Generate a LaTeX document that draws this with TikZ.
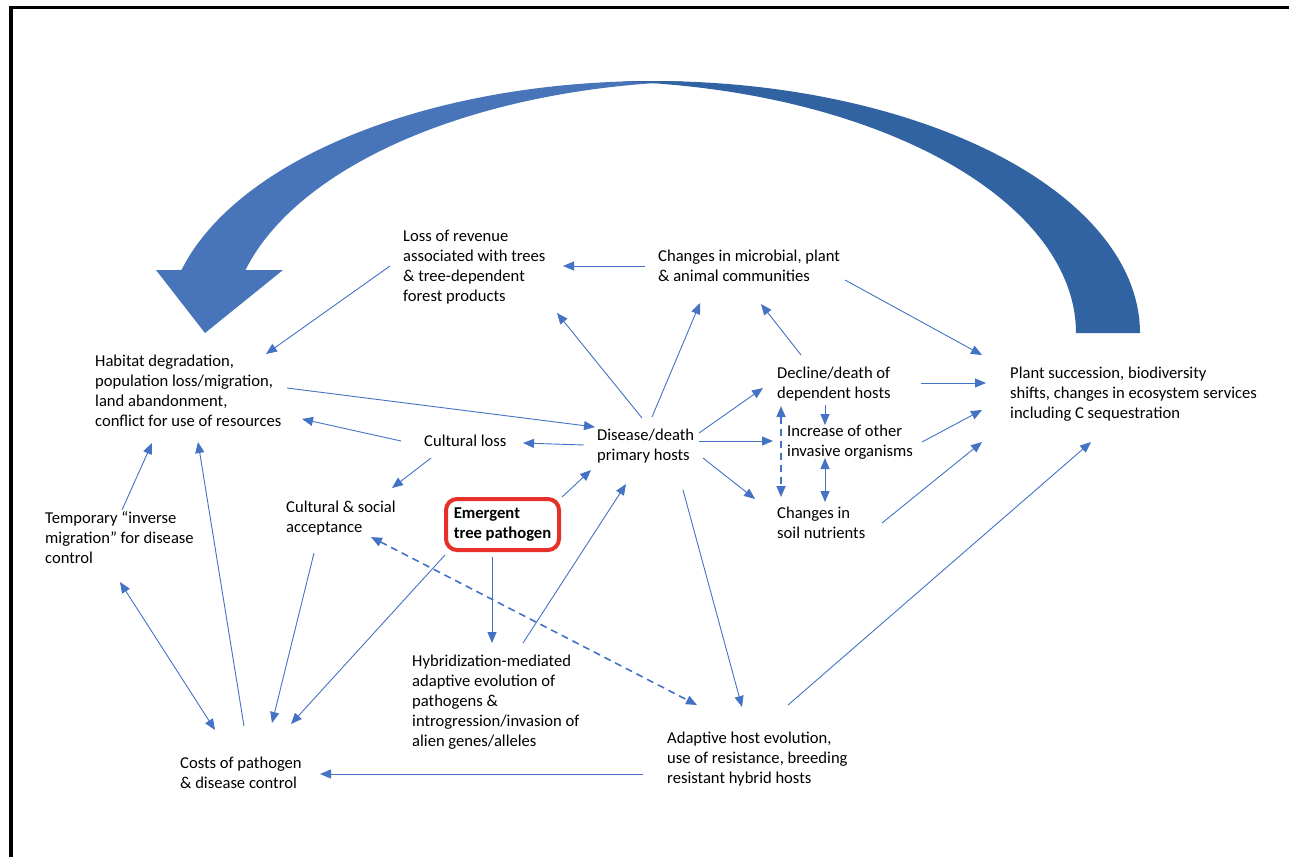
\documentclass[tikz,border=0pt]{standalone}
\usepackage{fontspec}
\setmainfont{Carlito}
\usetikzlibrary{arrows.meta}
\definecolor{ln}{HTML}{4472C4}
\definecolor{arcL}{HTML}{4875B9}
\definecolor{arcR}{HTML}{3162A1}
\definecolor{redbox}{HTML}{E8302A}
\tikzset{
  lbl/.style={anchor=base west, align=left, inner sep=0pt, font=\fontsize{16.6}{20}\selectfont},
  arr/.style={draw=ln, line width=0.9pt, -{Triangle[length=11pt,width=9pt]}},
  darr/.style={draw=ln, line width=0.9pt, {Triangle[length=11pt,width=9pt]}-{Triangle[length=11pt,width=9pt]}},
  dsh/.style={dashed, line width=1.6pt, dash pattern=on 7pt off 5pt},
}
\begin{document}
\begin{tikzpicture}[x=1pt,y=-1pt]
\useasboundingbox (0,0) rectangle (1289,857);
% frame
\draw[line width=3pt] (9.5,7.5) -- (1289,7.5);
\draw[line width=3.5pt] (11,6) -- (11,857);
% big curved arrow
\fill[arcL] plot[domain=86.23:165.52, samples=90] ({653+487*cos(\x)},{333-252*sin(\x)})
  -- (156,270) -- (205,333) -- (283,270)
  -- plot[domain=165.52:93.77, samples=90] ({717+487*cos(\x)},{333-252*sin(\x)}) -- cycle;
\fill[arcR] plot[domain=93.77:0, samples=90] ({653+487*cos(\x)},{333-252*sin(\x)})
  -- plot[domain=0:86.23, samples=90] ({589+487*cos(\x)},{333-252*sin(\x)}) -- cycle;
% nodes (anchored at the baseline of their last line)
\node[lbl] (rev) at (403,301) {Loss of revenue\\associated with trees\\\& tree-dependent\\forest products};
\node[lbl] (mic) at (658,281) {Changes in microbial, plant\\\& animal communities};
\node[lbl] (hab) at (95,426) {Habitat degradation,\\population loss/migration,\\land abandonment,\\conflict for use of resources};
\node[lbl] (cul) at (424,446) {Cultural loss};
\node[lbl] (dis) at (597,460) {Disease/death\\primary hosts};
\node[lbl] (dec) at (777,398) {Decline/death of\\dependent hosts};
\node[lbl] (inc) at (787,456) {Increase of other\\invasive organisms};
\node[lbl] (soil) at (777,538) {Changes in\\soil nutrients};
\node[lbl] (plant) at (1010,418) {Plant succession, biodiversity\\shifts, changes in ecosystem services\\including C sequestration};
\node[lbl] (acc) at (286,532) {Cultural \& social\\acceptance};
\node[lbl] (temp) at (45,563) {Temporary “inverse\\migration” for disease\\control};
\node[draw=redbox, line width=4pt, rounded corners=11pt, minimum width=113pt, minimum height=51pt,
      align=left, inner sep=0pt, font=\fontsize{16.6}{20}\selectfont\bfseries] (emg) at (502.5,524.5) {Emergent\\tree pathogen};
\node[lbl] (hyb) at (412,746) {Hybridization-mediated\\adaptive evolution of\\pathogens \&\\introgression/invasion of\\alien genes/alleles};
\node[lbl] (cost) at (180,788) {Costs of pathogen\\\& disease control};
\node[lbl] (adap) at (667,783) {Adaptive host evolution,\\use of resistance, breeding\\resistant hybrid hosts};
% connectors
\draw[arr] ([shift={(-13,-35)}]rev.base west) -- ([shift={(171,-72)}]hab.base west);
\draw[arr] ([shift={(-13,-15)}]mic.base west) -- ([shift={(160,-35)}]rev.base west);
\draw[arr] ([shift={(187,-1)}]mic.base west) -- ([shift={(-28,-63)}]plant.base west);
\draw[arr] ([shift={(55,-43)}]dis.base west) -- ([shift={(42,22)}]mic.base west);
\draw[arr] ([shift={(45,-42)}]dis.base west) -- ([shift={(154,12)}]rev.base west);
\draw[arr] ([shift={(24,-43)}]dec.base west) -- ([shift={(103,23)}]mic.base west);
\draw[arr] ([shift={(192,-38)}]hab.base west) -- ([shift={(-2,-33)}]dis.base west);
\draw[arr] ([shift={(-23,-5)}]cul.base west) -- ([shift={(207,-7)}]hab.base west);
\draw[arr] ([shift={(-13,-15)}]dis.base west) -- ([shift={(99,-3)}]cul.base west);
\draw[arr] ([shift={(7,12)}]cul.base west) -- ([shift={(106,-44)}]acc.base west);
\draw[arr] ([shift={(59.5,-27.5)}]emg.center) -- ([shift={(-6,10)}]dis.base west);
\draw[arr] ([shift={(102,-27)}]dis.base west) -- ([shift={(-14,-10)}]dec.base west);
\draw[arr] ([shift={(102,-19)}]dis.base west) -- ([shift={(-14,-15)}]inc.base west);
\draw[arr] ([shift={(106,-2)}]dis.base west) -- ([shift={(-22,-39)}]soil.base west);
\draw[arr] ([shift={(144,-15)}]dec.base west) -- ([shift={(-24,-35)}]plant.base west);
\draw[arr] ([shift={(48,7)}]dec.base west) -- ([shift={(38,-31)}]inc.base west);
\draw[darr,dsh] ([shift={(4,8)}]dec.base west) -- ([shift={(4,-41)}]soil.base west);
\draw[darr] ([shift={(38,2)}]inc.base west) -- ([shift={(48,-36)}]soil.base west);
\draw[arr] ([shift={(135,-14)}]inc.base west) -- ([shift={(-28,-8)}]plant.base west);
\draw[arr] ([shift={(105,-15)}]soil.base west) -- ([shift={(-28,24)}]plant.base west);
\draw[arr] ([shift={(121,-78)}]adap.base west) -- ([shift={(81,24)}]plant.base west);
\draw[arr] ([shift={(86,30)}]dis.base west) -- ([shift={(75,-76)}]adap.base west);
\draw[arr] ([shift={(111,-103)}]hyb.base west) -- ([shift={(29,24)}]dis.base west);
\draw[arr] ([shift={(-10.5,32.5)}]emg.center) -- ([shift={(80,-103)}]hyb.base west);
\draw[arr] ([shift={(-57.5,30.5)}]emg.center) -- ([shift={(111,-64)}]cost.base west);
\draw[darr,dsh] ([shift={(85,5)}]acc.base west) -- ([shift={(30,-78)}]adap.base west);
\draw[arr] ([shift={(-24,-9)}]adap.base west) -- ([shift={(140,-14)}]cost.base west);
\draw[arr] ([shift={(28,21)}]acc.base west) -- ([shift={(92,-65)}]cost.base west);
\draw[arr] ([shift={(64,-62)}]cost.base west) -- ([shift={(103,16)}]hab.base west);
\draw[darr] ([shift={(75,19)}]temp.base west) -- ([shift={(35,-58)}]cost.base west);
\draw[arr] ([shift={(77,-53)}]temp.base west) -- ([shift={(57,17)}]hab.base west);
\end{tikzpicture}
\end{document}
